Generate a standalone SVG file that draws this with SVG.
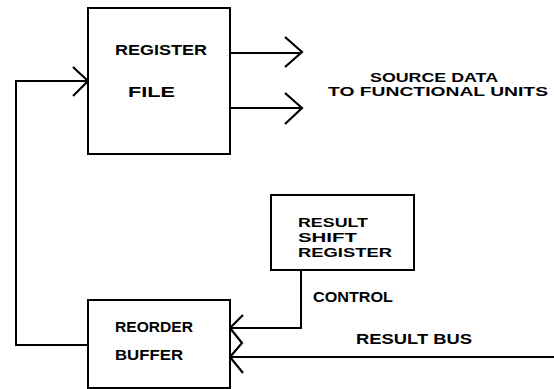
<svg xmlns="http://www.w3.org/2000/svg" width="554" height="389" viewBox="0 0 554 389">
<style>
.box{fill:#fff;stroke:#000;stroke-width:2}
.ln{fill:none;stroke:#000;stroke-width:2;stroke-linejoin:miter}
.hd{fill:none;stroke:#000;stroke-width:2.2}
text{font-family:"Liberation Sans",Arial,sans-serif;font-weight:bold;font-size:15px;fill:#000}
.sm{font-size:13px}
</style>
<rect width="554" height="389" fill="#fff"/>
<g id="connectors">
<path class="ln" d="M230,53 H300"/>
<path class="hd" d="M285,37 L302,52 L285,67"/>
<path class="ln" d="M230,108 H300"/>
<path class="hd" d="M285,93 L302,108 L285,124"/>
<path class="ln" d="M88,345 H16 V81 H87"/>
<path class="hd" d="M73,67 L88,81 L73,96"/>
<path class="ln" d="M301,270 V328 H231"/>
<path class="hd" d="M243,315 L230,328 L242,343 L230,357 L243,373"/>
<path class="ln" d="M231,357 H554"/>
<g id="label-source">
<text class="sm" x="370" y="82" textLength="128" lengthAdjust="spacingAndGlyphs">SOURCE DATA</text>
<text class="sm" x="328" y="96" textLength="220" lengthAdjust="spacingAndGlyphs">TO FUNCTIONAL UNITS</text>
</g>
<text x="313" y="302" textLength="80" lengthAdjust="spacingAndGlyphs">CONTROL</text>
<text x="356" y="344" textLength="116" lengthAdjust="spacingAndGlyphs">RESULT BUS</text>
</g>
<g id="register-file">
<rect class="box" x="88" y="8" width="142" height="146"/>
<text x="115" y="55" textLength="92" lengthAdjust="spacingAndGlyphs">REGISTER</text>
<text x="128" y="97" textLength="47" lengthAdjust="spacingAndGlyphs">FILE</text>
</g>
<g id="result-shift-register">
<rect class="box" x="271" y="195" width="143" height="75"/>
<text class="sm" x="298" y="227" textLength="70" lengthAdjust="spacingAndGlyphs">RESULT</text>
<text class="sm" x="298" y="242" textLength="59" lengthAdjust="spacingAndGlyphs">SHIFT</text>
<text class="sm" x="298" y="257" textLength="94" lengthAdjust="spacingAndGlyphs">REGISTER</text>
</g>
<g id="reorder-buffer">
<rect class="box" x="88" y="300" width="142" height="88"/>
<text x="115" y="332" textLength="78" lengthAdjust="spacingAndGlyphs">REORDER</text>
<text x="115" y="360" textLength="68" lengthAdjust="spacingAndGlyphs">BUFFER</text>
</g>
</svg>
